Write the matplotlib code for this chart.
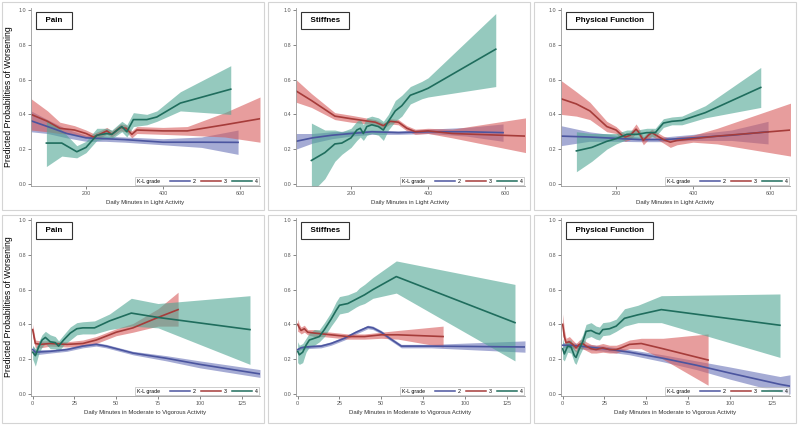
import matplotlib
matplotlib.use("Agg")
import matplotlib.pyplot as plt
from matplotlib.lines import Line2D
from matplotlib.patches import Rectangle
from matplotlib.offsetbox import HPacker

plt.rcParams['font.family'] = ['Liberation Sans', 'DejaVu Sans']

# ---- Pain vs light activity ----
pain_la_2_x = [57, 100, 150, 200, 250, 300, 400, 500, 595]
pain_la_2_y = [0.363, 0.33, 0.29, 0.265, 0.26, 0.255, 0.24, 0.24, 0.239]
pain_la_2_lo = [0.30, 0.29, 0.265, 0.245, 0.245, 0.24, 0.225, 0.21, 0.17]
pain_la_2_hi = [0.42, 0.37, 0.315, 0.28, 0.275, 0.27, 0.26, 0.27, 0.31]
pain_la_3_x = [57, 100, 132, 170, 200, 219, 240, 254, 267, 289, 304, 319, 332, 400, 463, 560, 652]
pain_la_3_y = [0.40, 0.36, 0.32, 0.31, 0.29, 0.27, 0.29, 0.305, 0.285, 0.325, 0.32, 0.285, 0.31, 0.305, 0.305, 0.34, 0.375]
pain_la_3_lo = [0.31, 0.30, 0.29, 0.285, 0.27, 0.255, 0.27, 0.285, 0.27, 0.305, 0.30, 0.265, 0.29, 0.285, 0.28, 0.27, 0.24]
pain_la_3_hi = [0.49, 0.42, 0.355, 0.335, 0.31, 0.29, 0.31, 0.325, 0.305, 0.345, 0.34, 0.305, 0.33, 0.325, 0.33, 0.41, 0.50]
pain_la_4_x = [97, 137, 176, 200, 228, 254, 267, 293, 306, 323, 358, 384, 445, 576]
pain_la_4_y = [0.235, 0.235, 0.185, 0.21, 0.28, 0.29, 0.285, 0.33, 0.30, 0.37, 0.37, 0.385, 0.465, 0.545]
pain_la_4_lo = [0.10, 0.16, 0.15, 0.18, 0.25, 0.26, 0.26, 0.30, 0.27, 0.33, 0.34, 0.36, 0.42, 0.40]
pain_la_4_hi = [0.37, 0.31, 0.22, 0.245, 0.32, 0.32, 0.31, 0.36, 0.34, 0.41, 0.40, 0.42, 0.53, 0.68]

# ---- Stiffness vs light activity ----
stiff_la_2_x = [57, 100, 150, 200, 254, 323, 400, 500, 595]
stiff_la_2_y = [0.245, 0.265, 0.28, 0.29, 0.30, 0.295, 0.30, 0.30, 0.295]
stiff_la_2_lo = [0.20, 0.235, 0.26, 0.275, 0.285, 0.285, 0.29, 0.275, 0.245]
stiff_la_2_hi = [0.29, 0.29, 0.30, 0.305, 0.31, 0.305, 0.315, 0.325, 0.345]
stiff_la_3_x = [57, 97, 158, 200, 263, 284, 302, 323, 345, 367, 400, 463, 654]
stiff_la_3_y = [0.535, 0.48, 0.39, 0.375, 0.355, 0.335, 0.36, 0.355, 0.32, 0.30, 0.305, 0.29, 0.275]
stiff_la_3_lo = [0.47, 0.44, 0.37, 0.355, 0.34, 0.32, 0.345, 0.34, 0.305, 0.285, 0.29, 0.265, 0.18]
stiff_la_3_hi = [0.60, 0.52, 0.41, 0.395, 0.37, 0.35, 0.375, 0.37, 0.335, 0.315, 0.32, 0.315, 0.38]
stiff_la_4_x = [97, 132, 158, 176, 200, 215, 224, 232, 241, 254, 271, 284, 297, 315, 332, 354, 384, 400, 576]
stiff_la_4_y = [0.135, 0.18, 0.23, 0.235, 0.265, 0.31, 0.32, 0.29, 0.33, 0.34, 0.33, 0.31, 0.36, 0.42, 0.45, 0.51, 0.535, 0.55, 0.775]
stiff_la_4_lo = [-0.05, 0.03, 0.13, 0.17, 0.21, 0.25, 0.27, 0.25, 0.28, 0.29, 0.28, 0.25, 0.31, 0.36, 0.39, 0.46, 0.49, 0.50, 0.56]
stiff_la_4_hi = [0.35, 0.31, 0.31, 0.30, 0.32, 0.36, 0.37, 0.34, 0.38, 0.39, 0.38, 0.36, 0.40, 0.48, 0.51, 0.56, 0.59, 0.61, 0.98]

# ---- Physical function vs light activity ----
pf_la_2_x = [57, 130, 200, 260, 323, 400, 500, 595]
pf_la_2_y = [0.275, 0.27, 0.262, 0.255, 0.255, 0.265, 0.28, 0.30]
pf_la_2_lo = [0.22, 0.245, 0.245, 0.243, 0.243, 0.25, 0.25, 0.23]
pf_la_2_hi = [0.335, 0.30, 0.28, 0.27, 0.27, 0.285, 0.31, 0.36]
pf_la_3_x = [57, 97, 132, 176, 200, 215, 224, 237, 252, 258, 271, 284, 293, 304, 323, 341, 358, 400, 463, 654]
pf_la_3_y = [0.49, 0.46, 0.42, 0.33, 0.31, 0.28, 0.27, 0.28, 0.315, 0.30, 0.25, 0.28, 0.295, 0.28, 0.255, 0.24, 0.25, 0.26, 0.275, 0.31]
pf_la_3_lo = [0.40, 0.39, 0.37, 0.30, 0.29, 0.255, 0.245, 0.255, 0.29, 0.28, 0.225, 0.255, 0.275, 0.26, 0.235, 0.21, 0.225, 0.24, 0.23, 0.16]
pf_la_3_hi = [0.595, 0.53, 0.47, 0.36, 0.33, 0.30, 0.29, 0.30, 0.345, 0.325, 0.27, 0.30, 0.315, 0.30, 0.275, 0.26, 0.27, 0.28, 0.32, 0.465]
pf_la_4_x = [97, 137, 176, 200, 228, 254, 280, 302, 323, 345, 371, 432, 576]
pf_la_4_y = [0.19, 0.21, 0.245, 0.26, 0.285, 0.285, 0.295, 0.295, 0.35, 0.36, 0.365, 0.41, 0.555]
pf_la_4_lo = [0.07, 0.13, 0.20, 0.23, 0.255, 0.26, 0.27, 0.27, 0.325, 0.34, 0.34, 0.38, 0.44]
pf_la_4_hi = [0.30, 0.29, 0.29, 0.29, 0.31, 0.31, 0.32, 0.32, 0.375, 0.385, 0.39, 0.45, 0.67]

# ---- Pain vs MVPA ----
pain_mv_2_x = [0, 1.6, 10.5, 20.5, 30, 38, 44, 60, 80, 100, 136]
pain_mv_2_y = [0.255, 0.24, 0.245, 0.255, 0.275, 0.285, 0.275, 0.235, 0.205, 0.17, 0.115]
pain_mv_2_lo = [0.235, 0.225, 0.235, 0.245, 0.265, 0.275, 0.265, 0.225, 0.19, 0.15, 0.095]
pain_mv_2_hi = [0.275, 0.255, 0.255, 0.265, 0.285, 0.295, 0.285, 0.245, 0.22, 0.19, 0.14]
pain_mv_3_x = [0, 1.6, 4.6, 10.5, 20.5, 30, 38, 50, 60, 75, 87]
pain_mv_3_y = [0.37, 0.29, 0.285, 0.29, 0.285, 0.29, 0.31, 0.355, 0.38, 0.44, 0.485]
pain_mv_3_lo = [0.33, 0.265, 0.265, 0.275, 0.27, 0.275, 0.29, 0.335, 0.355, 0.39, 0.39]
pain_mv_3_hi = [0.40, 0.31, 0.305, 0.305, 0.30, 0.31, 0.33, 0.375, 0.405, 0.49, 0.585]
pain_mv_4_x = [0, 1.6, 3.6, 5.6, 7.6, 10.5, 13.5, 15.5, 18.5, 22.5, 26.4, 30, 37, 46, 59, 75, 130]
pain_mv_4_y = [0.24, 0.22, 0.27, 0.31, 0.325, 0.30, 0.295, 0.275, 0.31, 0.35, 0.375, 0.38, 0.38, 0.42, 0.465, 0.44, 0.37]
pain_mv_4_lo = [0.20, 0.16, 0.23, 0.27, 0.29, 0.26, 0.26, 0.245, 0.28, 0.31, 0.34, 0.345, 0.345, 0.37, 0.39, 0.38, 0.17]
pain_mv_4_hi = [0.28, 0.26, 0.30, 0.34, 0.36, 0.34, 0.33, 0.305, 0.34, 0.385, 0.41, 0.415, 0.42, 0.46, 0.55, 0.52, 0.565]

# ---- Stiffness vs MVPA ----
stiff_mv_2_x = [0, 2, 5, 14, 20, 28, 35, 42, 45, 50, 55, 62, 80, 136]
stiff_mv_2_y = [0.255, 0.265, 0.27, 0.275, 0.29, 0.32, 0.355, 0.385, 0.38, 0.355, 0.32, 0.275, 0.275, 0.27]
stiff_mv_2_lo = [0.245, 0.255, 0.26, 0.265, 0.28, 0.31, 0.345, 0.375, 0.37, 0.345, 0.31, 0.265, 0.265, 0.24]
stiff_mv_2_hi = [0.265, 0.275, 0.28, 0.285, 0.30, 0.33, 0.365, 0.395, 0.39, 0.365, 0.33, 0.285, 0.285, 0.305]
stiff_mv_3_x = [0, 1, 2, 4, 6, 10, 15, 20, 30, 40, 50, 60, 87]
stiff_mv_3_y = [0.40, 0.38, 0.365, 0.375, 0.355, 0.35, 0.345, 0.34, 0.33, 0.33, 0.34, 0.34, 0.33]
stiff_mv_3_lo = [0.36, 0.355, 0.345, 0.355, 0.34, 0.33, 0.33, 0.325, 0.315, 0.315, 0.32, 0.315, 0.27]
stiff_mv_3_hi = [0.43, 0.40, 0.385, 0.395, 0.37, 0.37, 0.36, 0.355, 0.345, 0.345, 0.355, 0.365, 0.39]
stiff_mv_4_x = [0, 1, 3, 5, 7, 10, 13, 16, 20, 23, 25, 30, 35, 37, 40, 45, 59, 130]
stiff_mv_4_y = [0.245, 0.225, 0.24, 0.28, 0.31, 0.32, 0.33, 0.37, 0.43, 0.48, 0.51, 0.52, 0.545, 0.555, 0.57, 0.60, 0.675, 0.41]
stiff_mv_4_lo = [0.18, 0.17, 0.18, 0.24, 0.27, 0.28, 0.30, 0.33, 0.39, 0.43, 0.46, 0.47, 0.50, 0.51, 0.52, 0.55, 0.58, 0.19]
stiff_mv_4_hi = [0.30, 0.28, 0.29, 0.32, 0.35, 0.37, 0.37, 0.41, 0.47, 0.53, 0.56, 0.57, 0.59, 0.61, 0.63, 0.67, 0.765, 0.63]

# ---- Physical function vs MVPA ----
pf_mv_2_x = [0, 5, 15, 25, 40, 60, 80, 100, 130, 136]
pf_mv_2_y = [0.28, 0.28, 0.27, 0.26, 0.24, 0.205, 0.165, 0.12, 0.055, 0.045]
pf_mv_2_lo = [0.265, 0.265, 0.255, 0.245, 0.225, 0.185, 0.14, 0.085, 0.01, 0.0]
pf_mv_2_hi = [0.295, 0.295, 0.285, 0.275, 0.255, 0.225, 0.19, 0.155, 0.10, 0.11]
pf_mv_3_x = [0, 1, 2, 4, 6, 8, 10, 12, 14, 17, 20, 24, 28, 32, 35, 40, 47, 60, 87]
pf_mv_3_y = [0.40, 0.33, 0.295, 0.30, 0.285, 0.265, 0.285, 0.29, 0.275, 0.26, 0.255, 0.265, 0.255, 0.255, 0.265, 0.285, 0.29, 0.26, 0.195]
pf_mv_3_lo = [0.34, 0.30, 0.27, 0.275, 0.26, 0.24, 0.26, 0.26, 0.25, 0.235, 0.235, 0.24, 0.235, 0.235, 0.245, 0.26, 0.26, 0.20, 0.05]
pf_mv_3_hi = [0.46, 0.37, 0.32, 0.33, 0.31, 0.29, 0.31, 0.315, 0.30, 0.285, 0.28, 0.29, 0.28, 0.28, 0.29, 0.31, 0.32, 0.32, 0.345]
pf_mv_4_x = [0, 1, 3, 5, 7, 8, 10, 12, 14, 17, 20, 22, 24, 28, 32, 37, 45, 59, 130]
pf_mv_4_y = [0.26, 0.23, 0.275, 0.27, 0.22, 0.21, 0.26, 0.30, 0.36, 0.365, 0.35, 0.345, 0.37, 0.375, 0.39, 0.435, 0.455, 0.485, 0.395]
pf_mv_4_lo = [0.20, 0.19, 0.24, 0.235, 0.18, 0.17, 0.22, 0.26, 0.32, 0.33, 0.315, 0.31, 0.335, 0.34, 0.36, 0.39, 0.41, 0.41, 0.21]
pf_mv_4_hi = [0.32, 0.28, 0.31, 0.31, 0.26, 0.25, 0.30, 0.34, 0.40, 0.41, 0.39, 0.385, 0.41, 0.415, 0.43, 0.49, 0.51, 0.565, 0.575]

grades = ['2', '3', '4']
line_cols = ['#4b559f', '#a63c3a', '#1f6d5d']
band_cols = ['#6a73b8', '#d75c5c', '#4fa593']

titles = ['Pain', 'Stiffnes', 'Physical Function']
xlabel_top = 'Daily Minutes in Light Activity'
xlabel_bot = 'Daily Minutes in Moderate to Vigorous Activity'
ylabel = 'Predicted Probabilities of Worsening'

top_series = [
    [(pain_la_2_x, pain_la_2_y, pain_la_2_lo, pain_la_2_hi),
     (pain_la_3_x, pain_la_3_y, pain_la_3_lo, pain_la_3_hi),
     (pain_la_4_x, pain_la_4_y, pain_la_4_lo, pain_la_4_hi)],
    [(stiff_la_2_x, stiff_la_2_y, stiff_la_2_lo, stiff_la_2_hi),
     (stiff_la_3_x, stiff_la_3_y, stiff_la_3_lo, stiff_la_3_hi),
     (stiff_la_4_x, stiff_la_4_y, stiff_la_4_lo, stiff_la_4_hi)],
    [(pf_la_2_x, pf_la_2_y, pf_la_2_lo, pf_la_2_hi),
     (pf_la_3_x, pf_la_3_y, pf_la_3_lo, pf_la_3_hi),
     (pf_la_4_x, pf_la_4_y, pf_la_4_lo, pf_la_4_hi)],
]
bot_series = [
    [(pain_mv_2_x, pain_mv_2_y, pain_mv_2_lo, pain_mv_2_hi),
     (pain_mv_3_x, pain_mv_3_y, pain_mv_3_lo, pain_mv_3_hi),
     (pain_mv_4_x, pain_mv_4_y, pain_mv_4_lo, pain_mv_4_hi)],
    [(stiff_mv_2_x, stiff_mv_2_y, stiff_mv_2_lo, stiff_mv_2_hi),
     (stiff_mv_3_x, stiff_mv_3_y, stiff_mv_3_lo, stiff_mv_3_hi),
     (stiff_mv_4_x, stiff_mv_4_y, stiff_mv_4_lo, stiff_mv_4_hi)],
    [(pf_mv_2_x, pf_mv_2_y, pf_mv_2_lo, pf_mv_2_hi),
     (pf_mv_3_x, pf_mv_3_y, pf_mv_3_lo, pf_mv_3_hi),
     (pf_mv_4_x, pf_mv_4_y, pf_mv_4_lo, pf_mv_4_hi)],
]

W, H = 800, 428
fig = plt.figure(figsize=(W / 100, H / 100), dpi=100)


def box(left, top, w, h):
    # pixel box (from top-left) -> figure fraction
    return [left / W, 1 - (top + h) / H, w / W, h / H]


# panel frames
for top in (2, 215):
    for left in (2, 268, 534):
        fig.add_artist(Rectangle((left / W, 1 - (top + 208) / H), 262 / W, 208 / H,
                                 transform=fig.transFigure, fill=False,
                                 ec='#d4d4d4', lw=0.8))


def draw_panel(ax, series, title, xlabel, xlim, xticks):
    for (x, y, lo, hi), bc in zip(series, band_cols):
        ax.fill_between(x, lo, hi, color=bc, alpha=0.6, lw=0)
    handles = []
    for (x, y, lo, hi), lc in zip(series, line_cols):
        ax.plot(x, y, color=lc, lw=1.2)
        handles.append(Line2D([], [], color=lc, lw=1.1))
    ax.set_xlim(*xlim)
    ax.set_ylim(-0.012, 1.012)
    ax.set_xticks(xticks)
    ax.set_yticks([0, 0.2, 0.4, 0.6, 0.8, 1.0])
    ax.set_yticklabels(['0.0', '0.2', '0.4', '0.6', '0.8', '1.0'])
    ax.tick_params(labelsize=3.9, colors='#555555', length=2, width=0.5, pad=1.5)
    for s in ('top', 'right'):
        ax.spines[s].set_visible(False)
    for s in ('left', 'bottom'):
        ax.spines[s].set_color('#999999')
        ax.spines[s].set_linewidth(0.6)
    ax.set_xlabel(xlabel, fontsize=4.3, color='#333333', labelpad=3)
    ax.text(0.022 + 5 / 229, 0.928, '  ' + title + '  ', transform=ax.transAxes,
            ha='left', va='center', fontsize=5.8, fontweight='bold',
            bbox=dict(boxstyle='square,pad=0.6', fc='white', ec='#333333', lw=0.8))

    leg = ax.legend(handles, grades, title='K-L grade', ncol=3, loc='lower right',
                    fontsize=3.8, title_fontsize=3.8, handlelength=3.8,
                    handletextpad=0.5, columnspacing=1.0, borderpad=0.3,
                    borderaxespad=0.15, frameon=True, fancybox=False)
    leg.get_frame().set_edgecolor('#aaaaaa')
    leg.get_frame().set_linewidth(0.5)
    fs = leg._fontsize
    hb = HPacker(pad=leg.borderpad * fs, sep=2.0 * fs, align='center',
                 children=[leg._legend_title_box, leg._legend_handle_box])
    hb.set_figure(fig)
    hb.axes = ax
    hb.set_offset(leg._findoffset)
    leg._legend_box = hb


for col, left in enumerate((31, 296, 561)):
    ax = fig.add_axes(box(left, 8, 229, 178))
    draw_panel(ax, top_series[col], titles[col], xlabel_top, (57, 652), [200, 400, 600])
    ax = fig.add_axes(box(left, 218, 229, 178))
    draw_panel(ax, bot_series[col], titles[col], xlabel_bot, (-1, 136), [0, 25, 50, 75, 100, 125])

fig.text(9 / W, 1 - 97 / H, ylabel, rotation=90, ha='center', va='center', fontsize=6.2)
fig.text(9 / W, 1 - 307 / H, ylabel, rotation=90, ha='center', va='center', fontsize=6.2)

fig.savefig('out.png', dpi=100, facecolor='white')
